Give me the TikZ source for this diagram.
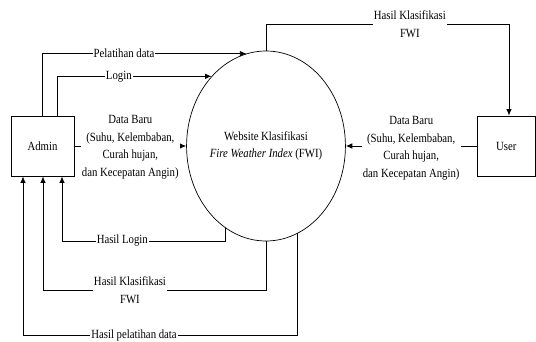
\documentclass[tikz,border=0pt]{standalone}
\usepackage{fontspec}
\setmainfont[FakeStretch=0.86]{Liberation Serif}
\usetikzlibrary{arrows.meta,shapes.geometric}
\begin{document}
\begin{tikzpicture}[x=1pt,y=-1pt,
  every node/.style={font=\fontsize{12.5}{17.5}\selectfont},
  box/.style={draw, line width=0.8pt, minimum width=63pt, minimum height=60pt, inner sep=0pt},
  proc/.style={draw, ellipse, line width=0.7pt, minimum width=138pt, minimum height=190pt, inner sep=0pt, align=center},
  flow/.style={line width=0.8pt, -{Latex[length=6.5pt,width=5.5pt]}},
  lbl/.style={fill=white, inner sep=1pt, align=center}]
\useasboundingbox (0,0) rectangle (536,341);
\node[box] (admin) at (42.5,146) {Admin};
\node[box, minimum width=58.5pt] (user) at (506.25,146) {User};
\node[proc] (e) at (266,146) {Website Klasifikasi\\\textit{Fire Weather Index} (FWI)};
\coordinate (ytop) at (0,24);
\coordinate (ylog) at (0,241);
\coordinate (yfwi) at (0,290);
\coordinate (ypel) at (0,335);
\draw[flow] (admin.north) |- node[lbl,pos=0.70]{Pelatihan data} (e.102.4);
\draw[flow] ([xshift=14.5pt]admin.north) |- node[lbl,pos=0.70]{Login} (e.128.6);
\draw[flow] (admin.east) -- node[lbl,yshift=-1.5pt]{Data Baru\\(Suhu, Kelembaban,\\Curah hujan,\\dan Kecepatan Angin)} (e.west);
\draw[flow] (user.west) -- node[lbl,yshift=-2.5pt]{Data Baru\\(Suhu, Kelembaban,\\Curah hujan,\\dan Kecepatan Angin)} (e.east);
\draw[flow] (e.244.3) -- (e.244.3 |- ylog) -| node[lbl,pos=0.316]{Hasil Login} ([xshift=19.5pt]admin.south);
\draw[flow] (e.south) -- (e.south |- yfwi) -| node[lbl,pos=0.305]{Hasil Klasifikasi\\FWI} ([xshift=0.5pt]admin.south);
\draw[flow] (e.290.9) -- (e.290.9 |- ypel) -| node[lbl,pos=0.298]{Hasil pelatihan data} ([xshift=-19.5pt]admin.south);
\draw[flow] (e.north) -- (e.north |- ytop) -| node[lbl,pos=0.296]{Hasil Klasifikasi\\FWI} ([xshift=2.75pt]user.north);
\end{tikzpicture}
\end{document}
